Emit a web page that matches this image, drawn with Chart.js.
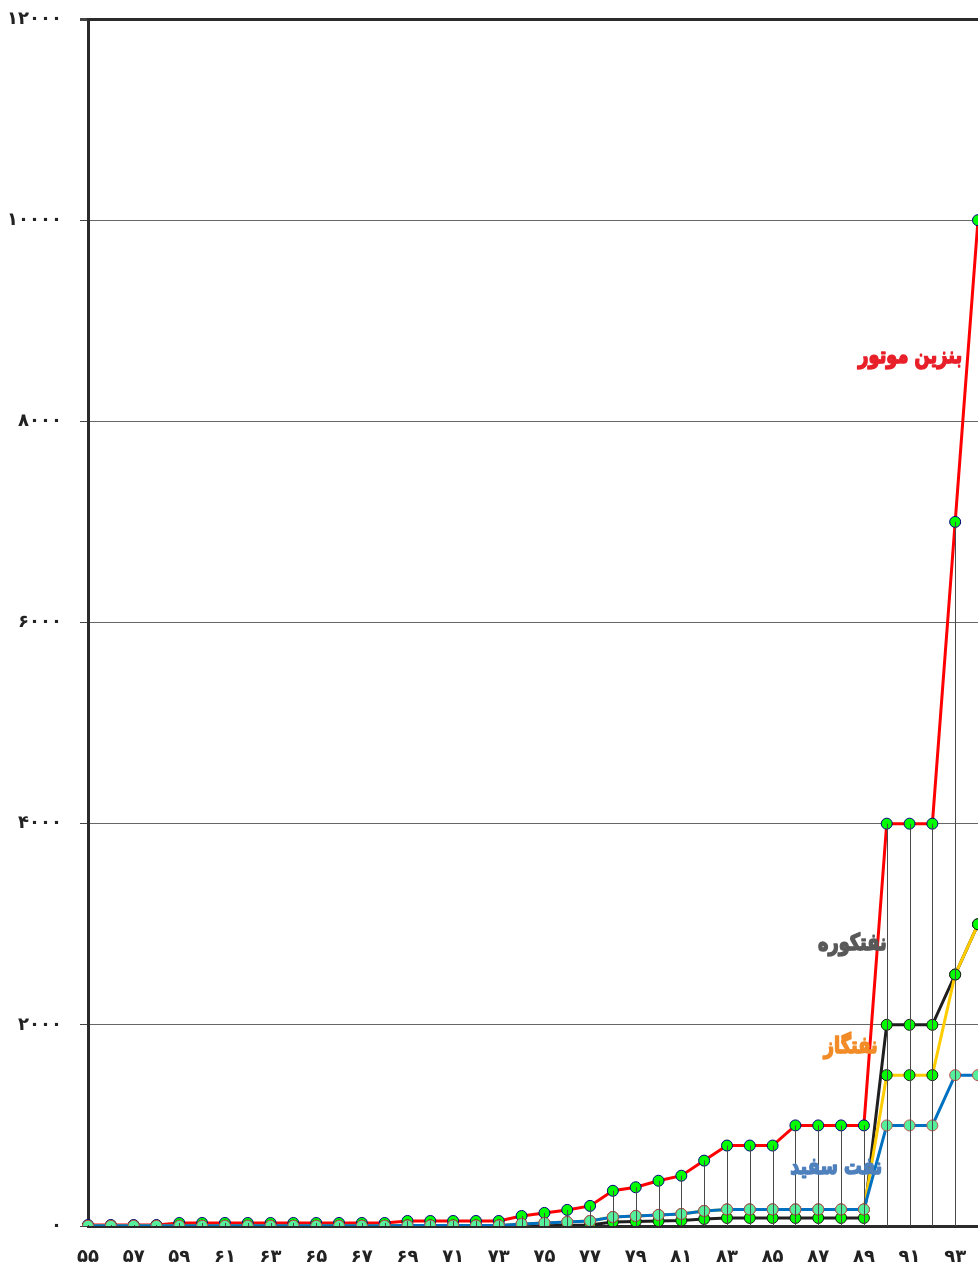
<!DOCTYPE html>
<html lang="fa">
<head>
<meta charset="utf-8">
<title>قیمت فرآورده‌های نفتی</title>
<script src="https://cdn.jsdelivr.net/npm/chart.js@4.4.1/dist/chart.umd.min.js"></script>
<style>
  html, body { margin: 0; padding: 0; background: #fff; overflow: hidden; }
  #wrap { width: 978px; height: 1267px; position: relative; }
</style>
</head>
<body>
<div id="wrap"><canvas id="priceChart"></canvas></div>
<script>
// ===== Data =====
const years = ['۵۵','۵۶','۵۷','۵۸','۵۹','۶۰','۶۱','۶۲','۶۳','۶۴','۶۵','۶۶','۶۷','۶۸','۶۹','۷۰','۷۱','۷۲','۷۳','۷۴',
               '۷۵','۷۶','۷۷','۷۸','۷۹','۸۰','۸۱','۸۲','۸۳','۸۴','۸۵','۸۶','۸۷','۸۸','۸۹','۹۰','۹۱','۹۲','۹۳','۹۴'];

// بنزین موتور
const gasoline = [10,10,10,10,30,30,30,30,30,30,30,30,30,30,50,50,50,50,50,100,
                  130,160,200,350,385,450,500,650,800,800,800,1000,1000,1000,1000,4000,4000,4000,7000,10000];
// نفتکوره
const fuelOil  = [3,3,3,3,3,3,3,3,3,3,3,3,3,3,5,5,5,5,5,5,
                  5,5,10,40,45,50,55,70,80,80,80,80,80,80,80,2000,2000,2000,2500,3000];
// نفتگاز
const gasOil   = [2,2,2,2,2,2,2,2,2,2,2,2,2,2,5,5,5,5,5,20,
                  30,40,50,90,100,110,120,150,165,165,165,165,165,165,165,1500,1500,1500,2500,3000];
// نفت سفید
const kerosene = [2,2,2,2,2,2,2,2,2,2,2,2,2,2,5,5,5,5,5,20,
                  30,40,50,90,100,110,120,150,165,165,165,165,165,165,165,1000,1000,1000,1500,1500];

const yTickValues = [0, 2000, 4000, 6000, 8000, 10000, 12000];
const yTickLabels = ['۰', '۲۰۰۰', '۴۰۰۰', '۶۰۰۰', '۸۰۰۰', '۱۰۰۰۰', '۱۲۰۰۰'];

// series name labels drawn inside the plot: [text, colour, x category index, y value]
const seriesLabels = [
  ['بنزین موتور', '#e8202a', 38.3, 8640],
  ['نفتکوره',     '#595959', 35.0, 2800],
  ['نفتگاز',      '#f28c28', 34.6, 1775],
  ['نفت سفید',    '#4f81bd', 34.8, 580]
];

const FONT = "'DejaVu Sans', sans-serif";

// drop lines from the highest value of each year down to the axis
const dropLines = {
  id: 'dropLines',
  afterDatasetsDraw(chart) {
    const { ctx, scales: { x, y } } = chart;
    ctx.save();
    ctx.strokeStyle = '#4a4a4a';
    ctx.lineWidth = 1;
    years.forEach((_, i) => {
      const top = Math.max(gasoline[i], fuelOil[i], gasOil[i], kerosene[i]);
      const px = Math.round(x.getPixelForValue(i)) + 0.5;
      ctx.beginPath();
      ctx.moveTo(px, y.getPixelForValue(top));
      ctx.lineTo(px, y.getPixelForValue(0));
      ctx.stroke();
    });
    ctx.restore();
  }
};

// heavy, slightly condensed series names
const nameLabels = {
  id: 'nameLabels',
  afterDraw(chart) {
    const { ctx, scales: { x, y } } = chart;
    seriesLabels.forEach(([text, color, xi, yv]) => {
      ctx.save();
      ctx.translate(x.getPixelForValue(xi), y.getPixelForValue(yv));
      ctx.scale(0.77, 1);
      ctx.font = 'bold 23px ' + FONT;
      ctx.textAlign = 'right';
      ctx.textBaseline = 'middle';
      ctx.direction = 'rtl';
      ctx.lineWidth = 1.6;
      ctx.lineJoin = 'round';
      ctx.fillStyle = color;
      ctx.strokeStyle = color;
      ctx.fillText(text, 0, 0);
      ctx.strokeText(text, 0, 0);
      ctx.restore();
    });
  }
};

const line = (label, data, color, pointFill, pointBorder) => ({
  label,
  data,
  borderColor: color,
  borderWidth: 3,
  tension: 0,
  pointRadius: 5.5,
  pointBorderWidth: 1,
  pointBackgroundColor: pointFill,
  pointBorderColor: pointBorder,
  fill: false
});

const noPad = (s) => { s.paddingLeft = 0; s.paddingRight = 0; s.paddingTop = 0; s.paddingBottom = 0; };

new Chart(document.getElementById('priceChart').getContext('2d'), {
  type: 'line',
  data: {
    labels: years,
    // first dataset is drawn on top
    datasets: [
      line('نفت سفید', kerosene, '#0070c0', '#55f09c', '#c0504d'),
      line('نفتگاز', gasOil, '#ffcc00', '#00ff00', '#1a1a1a'),
      line('نفتکوره', fuelOil, '#1f1f1f', '#00ff00', '#1a1a1a'),
      line('بنزین موتور', gasoline, '#ff0000', '#00ff00', '#000080')
    ]
  },
  options: {
    responsive: true,
    maintainAspectRatio: false,
    animation: false,
    layout: { autoPadding: false, padding: { top: 19, right: 0, left: 0, bottom: 0 } },
    plugins: { legend: { display: false }, tooltip: { enabled: false } },
    scales: {
      x: {
        offset: false,
        grid: { display: false },
        border: { display: true, color: '#2b2b2b', width: 3 },
        ticks: {
          autoSkip: false,
          maxRotation: 0,
          padding: 13,
          color: '#222',
          font: { family: FONT, size: 18, weight: 'bold' },
          callback: (v, i) => (i % 2 === 0 ? years[i] : '')
        },
        afterFit: (s) => { s.height = 41; noPad(s); }
      },
      y: {
        min: 0,
        max: 12000,
        afterBuildTicks: (s) => { s.ticks = yTickValues.map(v => ({ value: v })); },
        grid: {
          color: (c) => (c.tick && c.tick.value === 12000 ? '#2b2b2b' : '#666'),
          lineWidth: (c) => (c.tick && c.tick.value === 12000 ? 3 : 1),
          tickColor: '#444',
          tickLength: 8
        },
        border: { display: true, color: '#2b2b2b', width: 3 },
        ticks: {
          padding: 18,
          color: '#222',
          font: { family: FONT, size: 18, weight: 'bold' },
          callback: (v) => yTickLabels[yTickValues.indexOf(v)]
        },
        afterFit: (s) => { s.width = 88; noPad(s); }
      }
    }
  },
  plugins: [dropLines, nameLabels]
});
</script>
</body>
</html>
